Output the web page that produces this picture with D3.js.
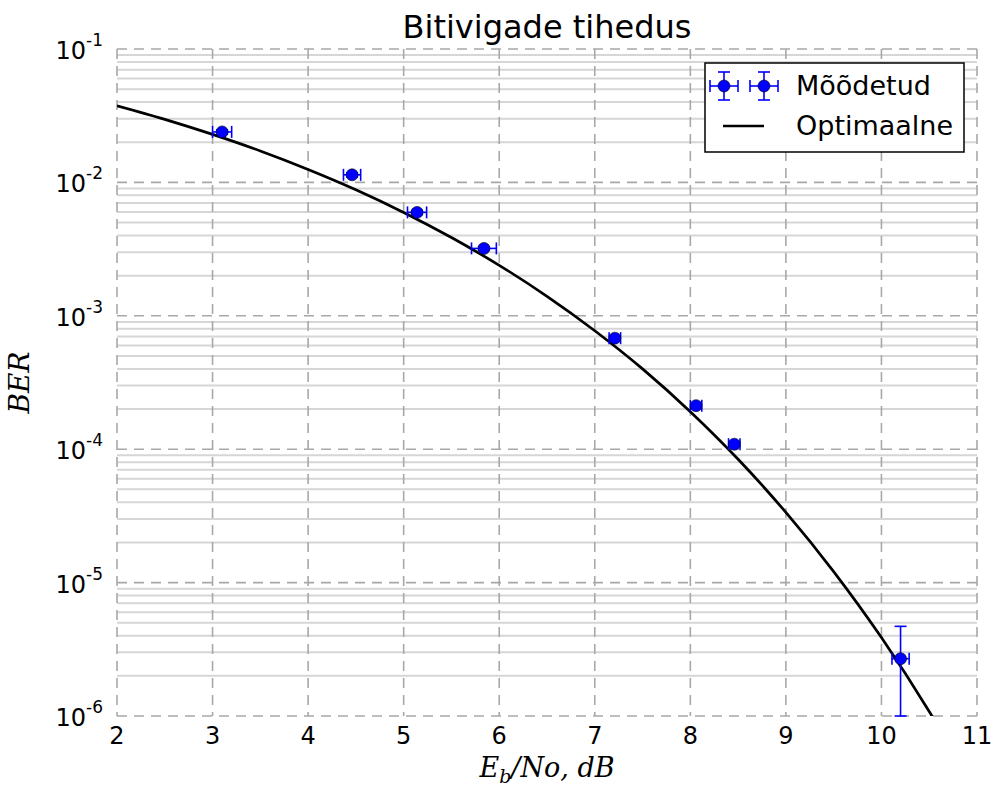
<!DOCTYPE html>
<html>
<head>
<meta charset="utf-8">
<script src="https://cdn.jsdelivr.net/npm/d3@7/dist/d3.min.js"></script>
<style>
  body { margin: 0; background: #fff; }
  text { font-family: "DejaVu Sans", sans-serif; }
</style>
</head>
<body>
<div id="plot"></div>
<script>
// measured points
const ebno    = [3.10, 4.46, 5.14, 5.84, 7.21, 8.06, 8.46, 10.20];
const ber     = [2.39e-2, 1.14e-2, 5.96e-3, 3.20e-3, 6.8e-4, 2.12e-4, 1.09e-4, 2.69e-6];
const ebnoErr = [0.10, 0.09, 0.10, 0.13, 0.06, 0.06, 0.06, 0.09];
const berLow  = [2.30e-2, 1.10e-2, 5.75e-3, 3.10e-3, 6.55e-4, 2.04e-4, 1.05e-4, 1.0e-6];
const berHigh = [2.48e-2, 1.18e-2, 6.17e-3, 3.30e-3, 7.05e-4, 2.20e-4, 1.13e-4, 4.7e-6];

// optimal curve
const optEbno = [2.0, 2.5, 3.0, 3.5, 4.0, 4.5, 5.0, 5.5, 6.0, 6.5, 7.0, 7.5, 8.0, 8.5, 9.0, 9.5, 10.0, 10.5, 11.0];
const optBer  = [3.75e-2, 2.97e-2, 2.29e-2, 1.72e-2, 1.25e-2, 8.8e-3, 5.95e-3, 3.86e-3, 2.39e-3, 1.40e-3,
                 7.73e-4, 4.0e-4, 1.91e-4, 8.4e-5, 3.36e-5, 1.21e-5, 3.87e-6, 1.08e-6, 2.6e-7];

const xTicks = [2, 3, 4, 5, 6, 7, 8, 9, 10, 11];
const yTicks = [1e-6, 1e-5, 1e-4, 1e-3, 1e-2, 1e-1];
const yExp   = ["-6", "-5", "-4", "-3", "-2", "-1"];

const svgWidth = 998, svgHeight = 793;
const margin = { top: 49, right: 21, bottom: 77, left: 117 };
const width = svgWidth - margin.left - margin.right;
const height = svgHeight - margin.top - margin.bottom;

const svg = d3.select('#plot')
    .append('svg')
    .attr("width", svgWidth)
    .attr("height", svgHeight)
    .append("g")
    .attr("transform", "translate(" + margin.left + "," + margin.top + ")");

const x = d3.scaleLinear().domain([2, 11]).range([0, width]);
const y = d3.scaleLog().domain([1e-6, 1e-1]).range([height, 0]);

svg.append("clipPath").attr("id", "clip")
    .append("rect").attr("width", width).attr("height", height);

// minor grid (2..9 in every decade)
const minor = [];
yTicks.slice(0, -1).forEach(function(t) {
    for (let k = 2; k <= 9; k++) minor.push(t * k);
});
svg.selectAll(".minor")
    .data(minor)
    .enter().append("line")
    .attr("x1", 0).attr("x2", width)
    .attr("y1", d => y(d)).attr("y2", d => y(d))
    .attr("stroke", "#d6d6d6")
    .attr("stroke-width", 2);

// major grid
svg.selectAll(".ymajor")
    .data(yTicks)
    .enter().append("line")
    .attr("x1", 0).attr("x2", width)
    .attr("y1", d => y(d)).attr("y2", d => y(d))
    .attr("stroke", "#a8a8a8")
    .attr("stroke-width", 1.6)
    .attr("stroke-dasharray", "10,7");

svg.selectAll(".xmajor")
    .data(xTicks)
    .enter().append("line")
    .attr("x1", d => x(d)).attr("x2", d => x(d))
    .attr("y1", 0).attr("y2", height)
    .attr("stroke", "#a8a8a8")
    .attr("stroke-width", 1.6)
    .attr("stroke-dasharray", "10,7");

// tick labels
svg.selectAll(".xlab")
    .data(xTicks)
    .enter().append("text")
    .attr("x", d => x(d))
    .attr("y", height + 28)
    .attr("text-anchor", "middle")
    .attr("font-size", 24)
    .text(d => d);

const ylab = svg.selectAll(".ylab")
    .data(yTicks)
    .enter().append("text")
    .attr("x", -14)
    .attr("y", d => y(d) + 10)
    .attr("text-anchor", "end")
    .attr("font-size", 24);
ylab.append("tspan").text("10");
ylab.append("tspan")
    .attr("dy", -13)
    .attr("font-size", 17)
    .text((d, i) => yExp[i]);

// optimal curve
const line = d3.line()
    .x((d, i) => x(optEbno[i]))
    .y(d => y(d))
    .curve(d3.curveMonotoneX);

svg.append("path")
    .datum(optBer)
    .attr("clip-path", "url(#clip)")
    .attr("d", line)
    .attr("fill", "none")
    .attr("stroke", "black")
    .attr("stroke-width", 2.7);

// error bars
const blue = "#0000ff";
const cap = 6;
const eb = svg.append("g").attr("stroke", blue).attr("stroke-width", 1.6);
ebno.forEach(function(e, i) {
    const cx = x(e), cy = y(ber[i]);
    const xl = x(e - ebnoErr[i]), xr = x(e + ebnoErr[i]);
    const yt = y(berHigh[i]), yb = y(berLow[i]);
    eb.append("line").attr("x1", xl).attr("x2", xr).attr("y1", cy).attr("y2", cy);
    eb.append("line").attr("x1", xl).attr("x2", xl).attr("y1", cy - cap).attr("y2", cy + cap);
    eb.append("line").attr("x1", xr).attr("x2", xr).attr("y1", cy - cap).attr("y2", cy + cap);
    eb.append("line").attr("x1", cx).attr("x2", cx).attr("y1", yt).attr("y2", yb);
    eb.append("line").attr("x1", cx - cap).attr("x2", cx + cap).attr("y1", yt).attr("y2", yt);
    eb.append("line").attr("x1", cx - cap).attr("x2", cx + cap).attr("y1", yb).attr("y2", yb);
});

svg.selectAll(".pt")
    .data(ber)
    .enter().append("circle")
    .attr("cx", (d, i) => x(ebno[i]))
    .attr("cy", d => y(d))
    .attr("r", 6)
    .attr("fill", blue)
    .attr("stroke", "black")
    .attr("stroke-width", 0.6);

// title and axis labels
svg.append("text")
    .attr("x", width / 2 + 0)
    .attr("y", -11)
    .attr("text-anchor", "middle")
    .attr("font-size", 32)
    .text("Bitivigade tihedus");

const xl = svg.append("text")
    .attr("x", width / 2)
    .attr("y", height + 61)
    .attr("text-anchor", "middle")
    .attr("font-size", 27)
    .style("font-family", "'DejaVu Serif', serif")
    .style("font-style", "italic");
xl.append("tspan").text("E");
xl.append("tspan").attr("font-size", 19).attr("dy", 6).text("b");
xl.append("tspan").attr("dy", -6).text("/No, dB");

svg.append("text")
    .attr("transform", "translate(" + (-88) + "," + (height / 2) + ") rotate(-90)")
    .attr("text-anchor", "middle")
    .attr("font-size", 28)
    .style("font-family", "'DejaVu Serif', serif")
    .style("font-style", "italic")
    .text("BER");

// legend
const lg = svg.append("g").attr("transform", "translate(" + (705 - margin.left) + "," + (63 - margin.top) + ")");
lg.append("rect")
    .attr("width", 259).attr("height", 89)
    .attr("fill", "white")
    .attr("stroke", "black")
    .attr("stroke-width", 1.5);

[19, 59].forEach(function(mx) {
    const my = 23;
    const g = lg.append("g").attr("stroke", blue).attr("stroke-width", 1.6);
    g.append("line").attr("x1", mx - 14).attr("x2", mx + 14).attr("y1", my).attr("y2", my);
    g.append("line").attr("x1", mx - 14).attr("x2", mx - 14).attr("y1", my - cap).attr("y2", my + cap);
    g.append("line").attr("x1", mx + 14).attr("x2", mx + 14).attr("y1", my - cap).attr("y2", my + cap);
    g.append("line").attr("x1", mx).attr("x2", mx).attr("y1", my - 14).attr("y2", my + 14);
    g.append("line").attr("x1", mx - cap).attr("x2", mx + cap).attr("y1", my - 14).attr("y2", my - 14);
    g.append("line").attr("x1", mx - cap).attr("x2", mx + cap).attr("y1", my + 14).attr("y2", my + 14);
    lg.append("circle").attr("cx", mx).attr("cy", my).attr("r", 6)
        .attr("fill", blue).attr("stroke", "black").attr("stroke-width", 0.6);
});
lg.append("text").attr("x", 91).attr("y", 32).attr("font-size", 27).text("Mõõdetud");

lg.append("line")
    .attr("x1", 18).attr("x2", 59).attr("y1", 63).attr("y2", 63)
    .attr("stroke", "black").attr("stroke-width", 2.7);
lg.append("text").attr("x", 91).attr("y", 72).attr("font-size", 27).text("Optimaalne");
</script>
</body>
</html>
